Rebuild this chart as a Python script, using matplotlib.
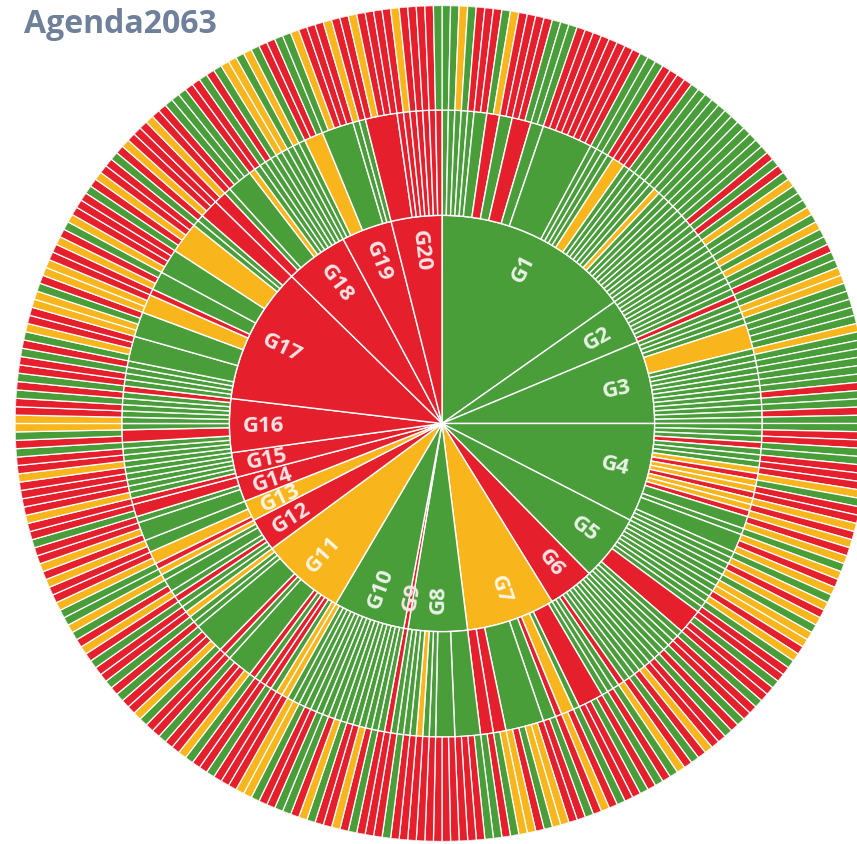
import matplotlib.pyplot as plt
import numpy as np

goals = ["G1", "G2", "G3", "G4", "G5", "G6", "G7", "G8", "G9", "G10",
         "G11", "G12", "G13", "G14", "G15", "G16", "G17", "G18", "G19", "G20"]
goal_status = "gggggrygrgyryrrrrrrr"

# middle ring: one token per target, "<number of indicators><status>"
targets = [
    "1g 1g 1g 1g 1g 2g 2r 2g 3r 2g 8g 1g 1g 1g 1g 2y 1g 1g 1g 1g 1g 1g 1y "
    "1g 1g 1g 1g 1g 1g 1g 1g 1g 1g",
    "1g 1g 1g 1g 1g 1g 1g 1g 1g 1g 1r",
    "1g 1g 1g 1g 4y 1g 1g 1g 1g 1g 1g 1g 1g 1g 1g 1g 1g",
    "1g 1g 1g 1r 1g 1g 1g 1y 1r 1y 1y 1r 1y 1y 1r 2g 1g 3g 1g 1g 1g",
    "1g 1g 1g 1g 1g 1g 1g 1g 4r 1g 1g 1g 1g",
    "1g 1g 1g 1g 1g 1g 1g 1g 1r 1g 1g",
    "1g 4r 1g 2y 1r 2g 6g 2r 2r",
    "4g 3g 1g 1g 1y 1g 1g 1g 1g",
    "1r",
    "1g 1g 1g 1g 1g 1g 1g 1g 1g 1g 1g 1g 1g 1g 1g 1g 1y",
    "1y 1g 1r 1r 1g 1r 4g 1g 1r 5g 1g 1g 1y",
    "1g 1g 1r 1g 2g 1g 1y",
    "1r 2y 2g",
    "3g 1g 2r",
    "1r 1g 1g 1g 1g 1g",
    "1g 1g 1g 1g 2r 1g 1g 1g 1g 1g 1g 1r",
    "1g 1g 1g 1g 4g 4g 3y 1r 3g 4g 5y 1g 1g 3r",
    "2r 1g 4g 1y 1g 1g 1g 1g 1g 1g 1g",
    "1g 1g 3y 5g 1g 1g",
    "5r 1r 1r 1r 1r 1r 1r 1r",
]

# outer ring: one letter per indicator
indicators = [
    "ggygrrrgyrrrrgggrrrrrrrrgggrrrrggggggggggggrgrg",
    "ygggygyggrg",
    "gyygggggyggggggrggrg",
    "grrggrrrygrryryrygyrygyr",
    "ygyyrygrrgrrgrrg",
    "rgrryrgrygr",
    "grgrrgryrgrryygryygrg",
    "grrrrrrrrrrrgr",
    "r",
    "rgryrrgyrggrrgyyr",
    "rrgrrgyrrgrrgyrrgrgr",
    "rgryrgyg",
    "gyrry",
    "ryrrgr",
    "ryrrrr",
    "yrrgrgyyrrgrg",
    "rrgrgyrryygryyrryrgyrrrgryrrgryrr",
    "ryrrgggrrgrgyyg",
    "ygrrggyrrryr",
    "ryrrrryrrrrg",
]

colors = {"g": "#4a9e3a", "r": "#e61f2d", "y": "#f8b51c"}
R_INNER, R_MIDDLE, R_OUTER = 0.498, 0.75, 1.0


def tint(hex_color, amount):
    rgb = np.array([int(hex_color[i:i + 2], 16) for i in (1, 3, 5)]) / 255
    return tuple(1 - amount * (1 - rgb))


def main():
    total = sum(len(s) for s in indicators)
    unit = 2 * np.pi / total

    fig = plt.figure(figsize=(8.57, 8.45), dpi=100)
    ax = fig.add_axes([15 / 857, (845 - 424.5 - 418) / 845, 854 / 857, 836 / 845],
                      projection="polar")
    ax.set_theta_zero_location("N")
    ax.set_theta_direction(-1)

    start = 0.0
    for name, status, tgt, ind in zip(goals, goal_status, targets, indicators):
        n = len(ind)
        ax.bar(start, R_INNER, width=n * unit, bottom=0, align="edge",
               color=colors[status], edgecolor="white", linewidth=1.0)

        pos = start
        for token in tgt.split():
            size, st = int(token[:-1]), token[-1]
            ax.bar(pos, R_MIDDLE - R_INNER, width=size * unit, bottom=R_INNER,
                   align="edge", color=colors[st], edgecolor="white", linewidth=1.0)
            pos += size * unit

        thetas = start + unit * np.arange(n)
        ax.bar(thetas, R_OUTER - R_MIDDLE, width=unit, bottom=R_MIDDLE,
               align="edge", color=[colors[c] for c in ind],
               edgecolor="white", linewidth=0.9)

        mid = start + n * unit / 2
        deg = np.degrees(mid)
        rot = 90 - deg if deg <= 180 else 270 - deg
        ax.text(mid, 0.418, name, rotation=rot, rotation_mode="anchor",
                ha="center", va="center", fontsize=16, fontweight="bold",
                family="Open Sans", color=tint(colors[status], 0.12))
        start += n * unit

    ax.set_ylim(0, R_OUTER)
    ax.set_aspect("auto")
    ax.set_axis_off()

    fig.text(24 / 857, 1 - 33 / 845, "Agenda2063", fontsize=23,
             fontweight="bold", family="Open Sans", color="#6e809a",
             ha="left", va="baseline")

    fig.savefig("out.png", dpi=100)
    plt.close(fig)


if __name__ == "__main__":
    main()
